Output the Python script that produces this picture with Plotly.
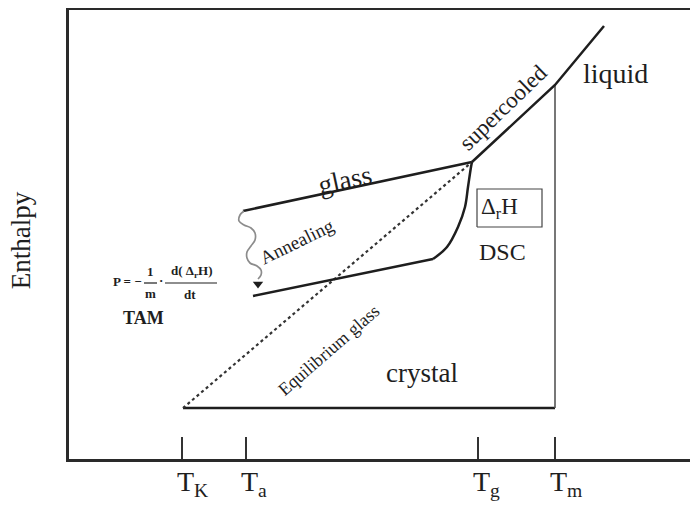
import plotly.graph_objects as go

FONT = "Liberation Serif"
INK = "#1e1e1e"

# --- schematic data (temperature, enthalpy in arbitrary units) ---
tick_T = [113, 177, 409, 486]
tick_labels = ["T<sub>K</sub>", "T<sub>a</sub>", "T<sub>g</sub>", "T<sub>m</sub>"]

crystal_T = [114, 486]
crystal_H = [51, 51]
melt_T = [486, 486]
melt_H = [51, 375]
liquid_T = [403, 486, 535]
liquid_H = [297, 374, 433]
glass_T = [174, 403]
glass_H = [248, 297]
equil_T = [114, 403]
equil_H = [51, 297]
annealed_T = [184, 364]
annealed_H = [163, 200]
recovery_T = [364, 378, 389, 396, 399, 402, 403]
recovery_H = [200, 212, 232, 252, 272, 292, 297]
wavy_T = [175, 171, 170, 175, 182, 186, 186, 182, 178, 178, 181, 188, 192, 192, 189]
wavy_H = [248, 244, 238, 234, 231, 226, 219, 213, 207, 201, 196, 193, 189, 184, 180]
arrow_T = [189]
arrow_H = [175]
box_T = [408, 473, 473, 408, 408]
box_H = [232, 232, 270, 270, 232]

fig = go.Figure()


def line(x, y, width=2.5, color=INK, dash="solid", shape="linear"):
    fig.add_trace(go.Scatter(x=x, y=y, mode="lines", hoverinfo="skip", showlegend=False,
                             line=dict(color=color, width=width, dash=dash, shape=shape)))


line(crystal_T, crystal_H)
line(melt_T, melt_H, width=1.6, color="#555555")
line(liquid_T, liquid_H)
line(glass_T, glass_H)
line(equil_T, equil_H, width=2.2, dash="dot", color="#333333")
line(annealed_T, annealed_H)
line(recovery_T, recovery_H, shape="spline")
line(wavy_T, wavy_H, width=1.7, color="#8c8c8c", shape="spline")
line(box_T, box_H, width=1.2, color="#444444")
fig.add_trace(go.Scatter(x=arrow_T, y=arrow_H, mode="markers", hoverinfo="skip", showlegend=False,
                         marker=dict(symbol="triangle-down", size=9, color=INK)))

ann = []


def text(x, y, s, size, angle=0, xanchor="center", yanchor="middle", bold=False, xshift=0,
         xref="x", yref="y"):
    ann.append(dict(x=x, y=y, xref=xref, yref=yref, text=(f"<b>{s}</b>" if bold else s),
                    showarrow=False, textangle=angle, xanchor=xanchor, yanchor=yanchor,
                    xshift=xshift, font=dict(family=FONT, size=size, color=INK)))


for t, lab in zip(tick_T, tick_labels):
    text(t, -0.012, lab, 28, xanchor="left", yanchor="top", xshift=-7, yref="paper")

text(276, 279, "glass", 27, angle=-12)
text(434, 352, "supercooled", 23, angle=-44)
text(546, 386, "liquid", 28)
text(228, 218, "Annealing", 19, angle=-26)
text(260, 109, "Equilibrium glass", 18, angle=-41)
text(353, 86, "crystal", 27)
text(433, 207, "DSC", 24)
text(410, 251, "Δ<sub>r</sub>H", 23, xanchor="left")
text(-0.075, 219, "Enthalpy", 27, angle=-90, xref="paper")

# formula P = -(1/m) d(ΔrH)/dt
text(42, 178, "P = −", 13, xanchor="left", bold=True)
text(81, 188, "1", 13, bold=True)
text(81, 166, "m", 13, bold=True)
text(92, 179, "·", 13, bold=True)
text(122, 188, "d( Δ<sub>r</sub>H)", 13, bold=True)
text(121, 165, "dt", 13, bold=True)
text(74, 141, "TAM", 18, bold=True)

fbar1_T = [75, 88]
fbar2_T = [96, 148]
fbar_H = [176, 176]
line(fbar1_T, fbar_H, width=1.2)
line(fbar2_T, fbar_H, width=1.2)

fig.update_layout(
    width=698, height=498,
    margin=dict(l=61, r=0, t=2, b=47),
    paper_bgcolor="white", plot_bgcolor="white",
    annotations=ann,
    xaxis=dict(range=[0, 637], showline=True, linewidth=2.5, linecolor="#2a2a2a", mirror=True,
               ticks="inside", tickvals=tick_T, ticklen=22, tickwidth=1.5, tickcolor="#333333",
               showticklabels=False, showgrid=False, zeroline=False, fixedrange=True),
    yaxis=dict(range=[0, 449], showline=True, linewidth=2.5, linecolor="#2a2a2a", mirror=False,
               showticklabels=False, showgrid=False, zeroline=False, ticks="", fixedrange=True),
)

fig.write_html("out.html")
